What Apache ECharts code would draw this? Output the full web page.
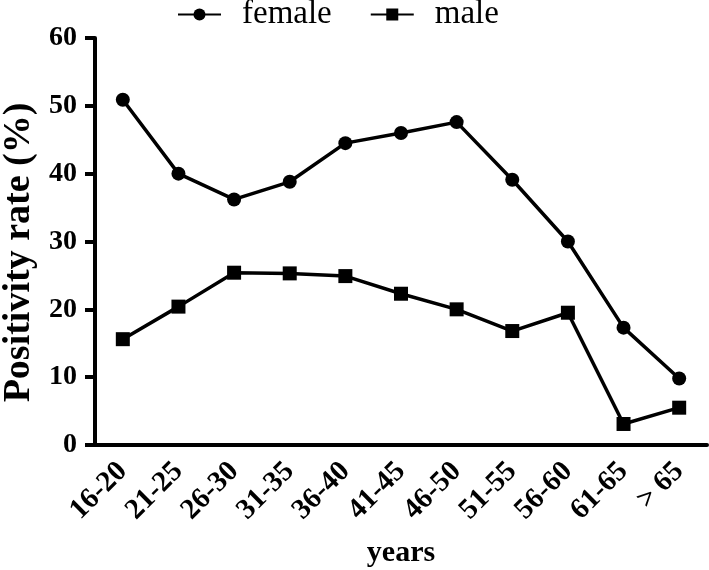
<!DOCTYPE html>
<html>
<head>
<meta charset="utf-8">
<script src="https://cdn.jsdelivr.net/npm/echarts@6/dist/echarts.min.js"></script>
<style>
  html, body { margin: 0; padding: 0; background: #fff; }
  #chart { width: 709px; height: 570px; }
</style>
</head>
<body>
<div id="chart"></div>
<script>
// age groups on the x axis
const categories = ['16-20', '21-25', '26-30', '31-35', '36-40', '41-45', '46-50', '51-55', '56-60', '61-65', '> 65']
// positivity rate (%)
const femaleRate = [50.9, 40.0, 36.2, 38.8, 44.5, 46.0, 47.6, 39.1, 30.0, 17.3, 9.8]
const maleRate = [15.6, 20.4, 25.4, 25.3, 24.9, 22.3, 20.0, 16.8, 19.5, 3.1, 5.5]
const yTicks = [0, 10, 20, 30, 40, 50, 60]

const serif = 'Liberation Serif'
const chart = echarts.init(document.getElementById('chart'))

chart.setOption({
  animation: false,
  backgroundColor: '#fff',
  textStyle: {fontFamily: serif, color: '#000'},
  legend: {
    top: -7,
    left: 172,
    itemGap: 38,
    itemWidth: 43,
    itemHeight: 15,
    textStyle: {fontFamily: serif, fontSize: 33, color: '#000', padding: [0, 0, 0, 16]},
    data: ['female', 'male']
  },
  grid: {left: 95, right: 2, top: 38, bottom: 125, outerBoundsMode: 'none'},
  xAxis: {
    type: 'category',
    data: categories,
    boundaryGap: true,
    name: 'years',
    nameLocation: 'middle',
    nameGap: 93,
    nameTextStyle: {fontFamily: serif, fontSize: 30, fontWeight: 'bold', color: '#000'},
    axisLine: {lineStyle: {color: '#000', width: 4}},
    axisTick: {alignWithLabel: true, length: 12, lineStyle: {color: '#000', width: 4}},
    axisLabel: {
      rotate: 45, margin: 22,
      fontFamily: serif, fontSize: 29, fontWeight: 'bold', color: '#000'
    }
  },
  yAxis: {
    type: 'value',
    min: yTicks[0],
    max: yTicks[yTicks.length - 1],
    interval: 10,
    name: 'Positivity rate (%)',
    nameLocation: 'middle',
    nameGap: 55,
    nameTextStyle: {
      fontFamily: serif, fontSize: 38, fontWeight: 'bold', color: '#000',
      padding: [0, 22, 0, 0]
    },
    axisLine: {show: true, lineStyle: {color: '#000', width: 4}},
    axisTick: {show: true, length: 10, lineStyle: {color: '#000', width: 4}},
    axisLabel: {margin: 18, fontFamily: serif, fontSize: 28, fontWeight: 'bold', color: '#000'},
    splitLine: {show: false}
  },
  series: [
    {
      name: 'female',
      type: 'line',
      data: femaleRate,
      symbol: 'circle',
      symbolSize: 14,
      itemStyle: {color: '#000'},
      lineStyle: {color: '#000', width: 3.5}
    },
    {
      name: 'male',
      type: 'line',
      data: maleRate,
      symbol: 'rect',
      symbolSize: 14,
      itemStyle: {color: '#000'},
      lineStyle: {color: '#000', width: 3.5}
    }
  ]
})
</script>
</body>
</html>
